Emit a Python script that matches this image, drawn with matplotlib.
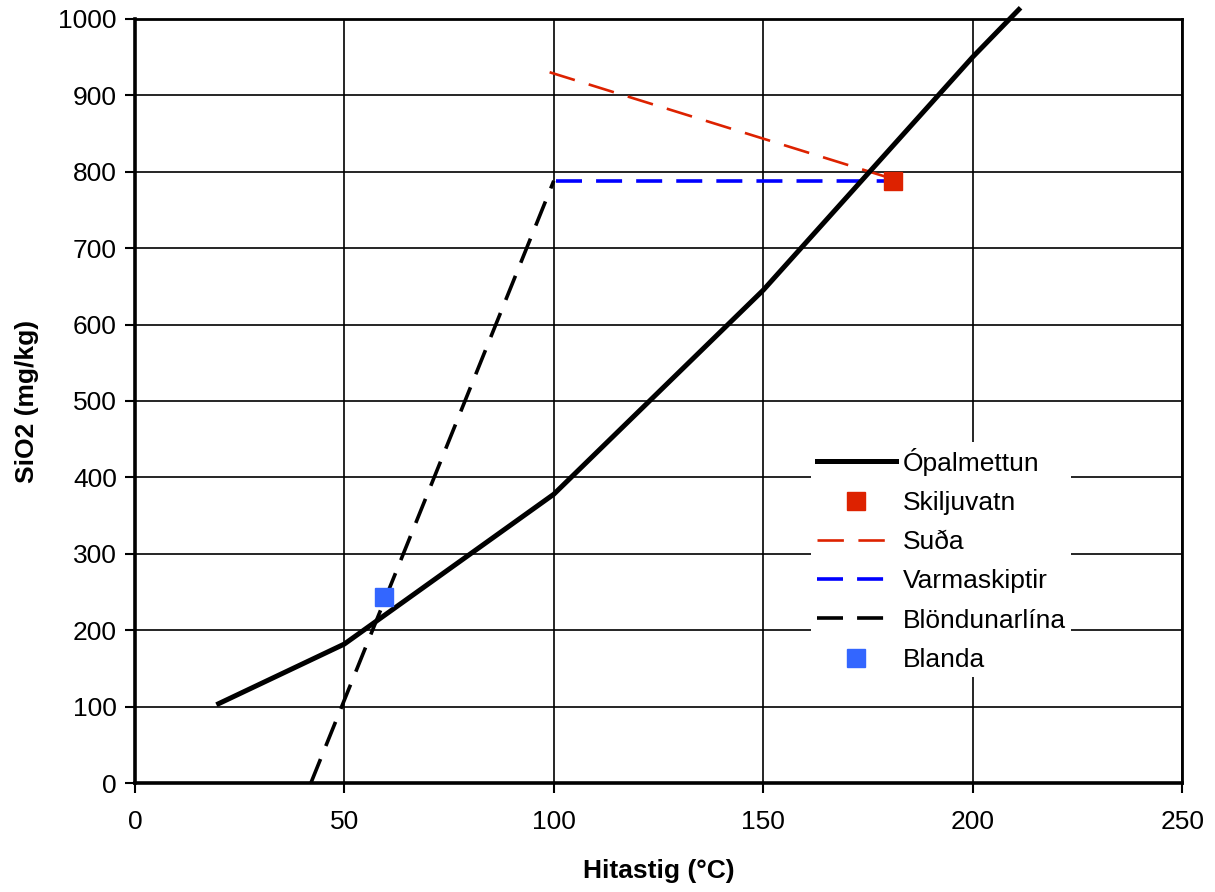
import matplotlib.pyplot as plt

plt.rcParams['font.family'] = ['Liberation Sans', 'DejaVu Sans']

# === Data ===
opal_t = [20, 50, 100, 150, 200, 211]
opal_sio2 = [104, 182, 378, 645, 950, 1012]

skilju_t = [181]
skilju_sio2 = [788]

suda_t = [99, 180]
suda_sio2 = [930, 792]

varma_t = [100.5, 181]
varma_sio2 = [788, 788]

blond_t = [42, 100]
blond_sio2 = [0, 788]

blanda_t = [59.5]
blanda_sio2 = [243]

xticks = [0, 50, 100, 150, 200, 250]
yticks = list(range(0, 1001, 100))

# === Plot ===
fig = plt.figure(figsize=(12.15, 8.92), dpi=100)
ax = fig.add_axes([0.111, 0.122, 0.862, 0.857])

ax.plot(opal_t, opal_sio2, color='black', lw=3.6, label='Ópalmettun', zorder=4,
        clip_on=False)
ax.plot(skilju_t, skilju_sio2, ls='none', marker='s', ms=13, color='#DD2200',
        label='Skiljuvatn', zorder=6)
ax.plot(suda_t, suda_sio2, color='#DD2200', lw=1.9, dashes=(10, 5.5), label='Suða', zorder=3)
ax.plot(varma_t, varma_sio2, color='#0000FF', lw=2.6, dashes=(7.2, 3.9), label='Varmaskiptir', zorder=3)
ax.plot(blond_t, blond_sio2, color='black', lw=2.6, dashes=(7.2, 3.9), label='Blöndunarlína', zorder=3)
ax.plot(blanda_t, blanda_sio2, ls='none', marker='s', ms=13, color='#3366FF',
        label='Blanda', zorder=6)

ax.set_xlim(0, 250)
ax.set_ylim(0, 1000)
ax.set_xticks(xticks)
ax.set_yticks(yticks)
ax.grid(True, color='black', lw=1.2)
ax.set_axisbelow(True)
ax.tick_params(labelsize=19, length=7, width=1.5, direction='out')
ax.tick_params(axis='x', pad=12)
ax.tick_params(axis='y', pad=6)

for side in ['left', 'bottom']:
    ax.spines[side].set_linewidth(2.6)
for side in ['top', 'right']:
    ax.spines[side].set_linewidth(2.0)

ax.set_xlabel('Hitastig (°C)', fontsize=19, fontweight='bold', labelpad=18)
ax.set_ylabel('SiO2 (mg/kg)', fontsize=19, fontweight='bold', labelpad=14)

leg = ax.legend(loc='upper left', bbox_to_anchor=(0.646, 0.446), fontsize=19,
                frameon=True, fancybox=False, edgecolor='none', facecolor='white',
                framealpha=1, handlelength=3.0, handletextpad=0.25,
                labelspacing=0.58, borderpad=0.2, borderaxespad=0)
leg.set_zorder(10)

fig.savefig('out.png', dpi=100)
